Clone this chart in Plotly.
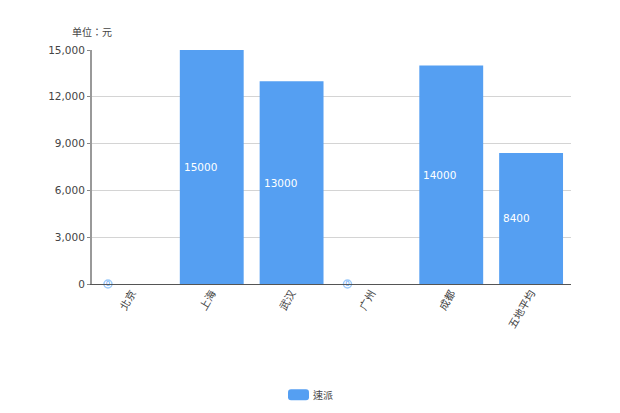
import plotly.graph_objects as go

categories = ["北京", "上海", "武汉", "广州", "成都", "五地平均"]
series_name = "速派"
values = [0, 15000, 13000, 0, 14000, 8400]
y_ticks = [0, 3000, 6000, 9000, 12000, 15000]
unit_label = "单位：元"

BLUE = "#559ff2"
FONT = "DejaVu Sans, Noto Sans CJK TC, sans-serif"
idx = list(range(len(categories)))

fig = go.Figure()
fig.add_trace(go.Bar(x=idx, y=values, name=series_name, width=0.8,
                     marker=dict(color=BLUE, line=dict(width=0)), showlegend=False,
                     hovertemplate="%{y}<extra></extra>"))

zi = [i for i in idx if values[i] == 0]
fig.add_trace(go.Scatter(x=[i - 0.3 for i in zi], y=[values[i] for i in zi], mode="markers+text",
                         text=[str(values[i]) for i in zi], textposition="middle center",
                         textfont=dict(size=7, color="#5aa4f5", family=FONT),
                         marker=dict(size=8, color="rgba(255,255,255,0.7)", line=dict(color="#9ccafa", width=1.5)),
                         showlegend=False, cliponaxis=False, hoverinfo="skip"))

annotations = []
for i in idx:
    if values[i] > 0:
        annotations.append(dict(x=i - 0.4, y=values[i] / 2, xref="x", yref="y", text=str(values[i]),
                                showarrow=False, xanchor="left", yanchor="middle", xshift=2,
                                font=dict(color="white", size=10.5, family=FONT)))
annotations.append(dict(x=(70 - 92) / 479, y=1 + 18 / 234.5, xref="paper", yref="paper", text=unit_label,
                        showarrow=False, xanchor="left", yanchor="middle",
                        font=dict(color="#444444", size=10, family=FONT)))
annotations.append(dict(x=(311 - 92) / 479, y=-(395 - 284) / 234.5, xref="paper", yref="paper", text=series_name,
                        showarrow=False, xanchor="left", yanchor="middle",
                        font=dict(color="#444444", size=10, family=FONT)))

def px(v): return (v - 92) / 479
def py(v): return (284 - v) / 234.5
x0, x1, y0, y1, r = 288, 309, 389.5, 400.5, 3
swatch = (f"M{px(x0+r)},{py(y0)} L{px(x1-r)},{py(y0)} Q{px(x1)},{py(y0)} {px(x1)},{py(y0+r)} "
          f"L{px(x1)},{py(y1-r)} Q{px(x1)},{py(y1)} {px(x1-r)},{py(y1)} L{px(x0+r)},{py(y1)} "
          f"Q{px(x0)},{py(y1)} {px(x0)},{py(y1-r)} L{px(x0)},{py(y0+r)} Q{px(x0)},{py(y0)} {px(x0+r)},{py(y0)} Z")

# the page body adds an 8px margin, so the figure is 8px smaller and its margins shift
fig.update_layout(
    width=612, height=405, margin=dict(l=84, r=49, t=42, b=129, pad=0),
    paper_bgcolor="white", plot_bgcolor="white", showlegend=False,
    font=dict(family=FONT, size=10.5, color="#444444"),
    annotations=annotations,
    shapes=[dict(type="path", xref="paper", yref="paper", path=swatch,
                 fillcolor=BLUE, line=dict(width=0))],
    xaxis=dict(range=[-0.5, 5.5], tickmode="array", tickvals=idx, ticktext=categories, tickangle=-60,
               showgrid=False, zeroline=False, showline=True, linecolor="#555555", linewidth=1,
               ticks="", ticklabelstandoff=-2, tickfont=dict(size=10.5, color="#444444", family=FONT)),
    yaxis=dict(range=[0, 15000], tickmode="array", tickvals=y_ticks, tickformat=",d",
               showgrid=True, gridcolor="#d4d4d4", gridwidth=1, zeroline=False,
               showline=True, linecolor="#999999", linewidth=2,
               ticks="outside", ticklen=3, tickcolor="#888888", tickwidth=1,
               tickfont=dict(size=10.5, color="#444444", family=FONT)),
)
fig.write_html("out.html")
